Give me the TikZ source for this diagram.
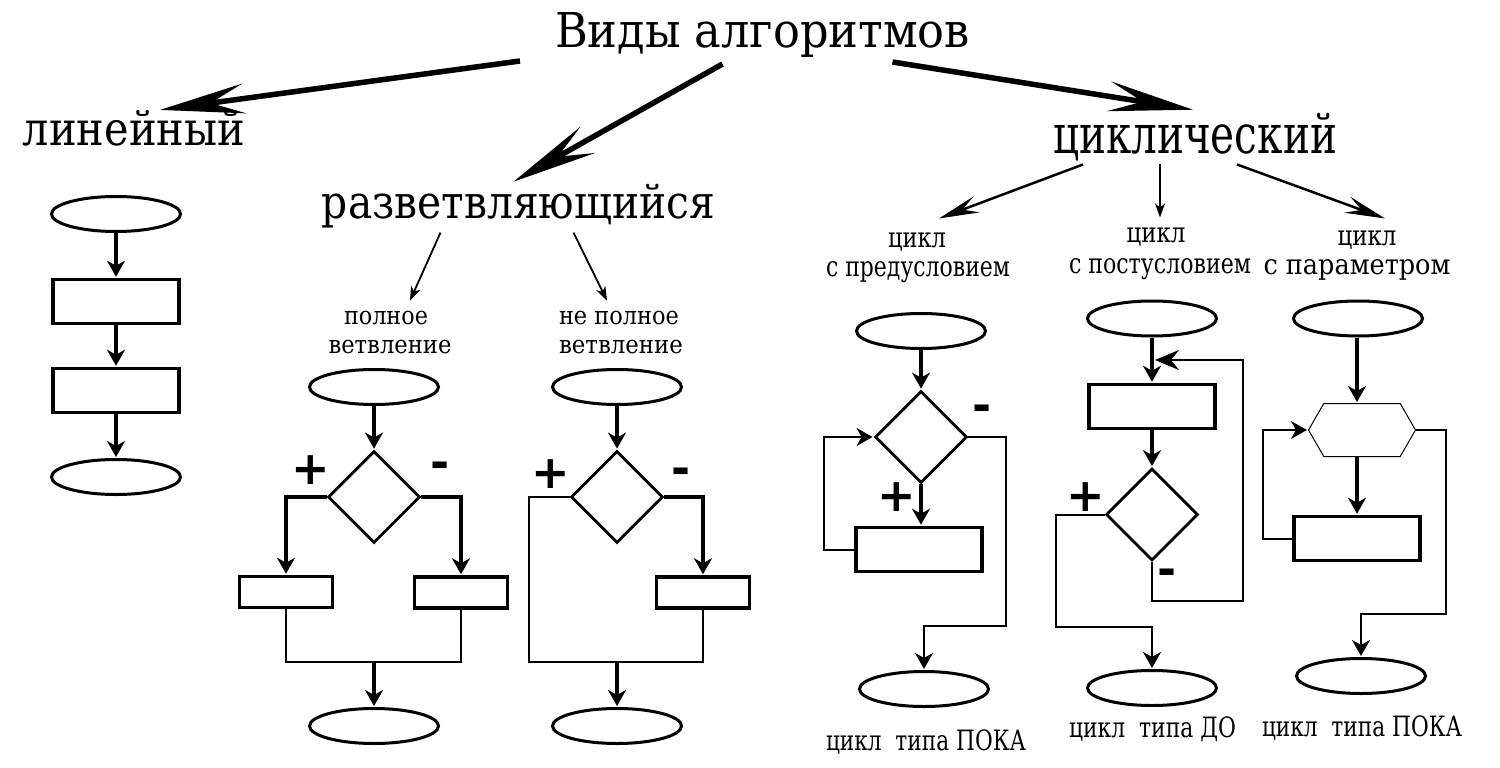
\documentclass[tikz,border=0pt]{standalone}
\usepackage{fontspec}
\setmainfont{DejaVu Serif}
\newfontfamily\signfont{DejaVu Sans}
\usetikzlibrary{arrows.meta,shapes.geometric,shapes.symbols,calc}
\newcommand{\wt}[3]{\resizebox{#1pt}{\height}{\fontsize{#2pt}{#2pt}\selectfont #3}}
\begin{document}
\begin{tikzpicture}[x=1pt,y=-1pt,
  txt/.style={inner sep=0pt, outer sep=0pt, anchor=base},
  term/.style={draw, ellipse, line width=3pt, minimum width=129pt, minimum height=35pt, inner sep=0pt},
  proc/.style={draw, rectangle, line width=3.5pt, minimum width=126pt, minimum height=44pt, inner sep=0pt},
  procs/.style={draw, rectangle, line width=3.5pt, minimum width=93pt, minimum height=31pt, inner sep=0pt},
  dec/.style={draw, diamond, line width=2.8pt, minimum width=92pt, minimum height=92pt, inner sep=0pt},
  hexa/.style={draw, signal, signal to=east and west, signal pointer angle=120, line width=1pt, minimum width=107pt, minimum height=53pt, inner sep=0pt},
  arr/.style={line width=3.3pt, -{Stealth[length=16pt,width=18pt,inset=5pt]}, shorten >=1pt},
  tarr/.style={line width=2pt, -{Stealth[length=16pt,width=18pt,inset=5pt]}, shorten >=1pt},
  larr/.style={line width=2.6pt, -{Stealth[length=24pt,width=20pt,inset=8pt]}, shorten >=3pt},
  ln/.style={line width=2.5pt},
  big/.style={line width=5.5pt, -{Stealth[length=85pt,width=30pt,inset=34pt]}},
  mid/.style={line width=2.5pt, -{Stealth[length=40pt,width=17pt,inset=15pt]}},
  small/.style={line width=1.8pt, -{Stealth[length=14pt,width=10pt,inset=4pt]}},
  sign/.style={inner sep=0pt, font=\signfont\bfseries\fontsize{46pt}{46pt}\selectfont}
]
\useasboundingbox (0,0) rectangle (1500,768);
\fill[white] (0,0) rectangle (1500,768);

% ---------- titles ----------
\node[txt] (T) at (762.5,48) {\wt{415}{48}{Виды алгоритмов}};
\node[txt] (Lin) at (134,145) {\wt{222}{47}{линейный}};
\node[txt] (Raz) at (518.5,218) {\wt{393}{46}{разветвляющийся}};
\node[txt] (Cyc) at (1195,153) {\wt{284}{54}{циклический}};

\draw[big] ($(T.south west)+(-35,3)$) -- ($(Lin.north)+(26,0)$);
\draw[big] ($(T.south)+(-40,6)$) -- ($(Raz.north)+(-5,-2)$);
\draw[big] ($(T.south)+(130,4)$) -- ($(Cyc.north)+(-2,-3)$);

% ---------- branch labels ----------
\node[txt] (pol1) at (386,324) {\wt{84}{25}{полное}};
\node[txt] (pol2) at (390,353) {\wt{123}{25}{ветвление}};
\node[txt] (npol1) at (619,324) {\wt{120}{25}{не полное}};
\node[txt] (npol2) at (621,353) {\wt{124}{25}{ветвление}};
\draw[small] ($(Raz.south)+(-78,5)$) -- ($(pol1.north)+(24,-10)$);
\draw[small] ($(Raz.south)+(55,5)$) -- ($(npol1.north)+(-12,-10)$);

% ---------- cyclic labels ----------
\node[txt] (c1a) at (917,247) {\wt{58}{28}{цикл}};
\node[txt] (c1b) at (918,276) {\wt{184}{28}{с предусловием}};
\node[txt] (c2a) at (1156,242) {\wt{59}{28}{цикл}};
\node[txt] (c2b) at (1160,273) {\wt{182}{28}{с постусловием}};
\node[txt] (c3a) at (1367,245) {\wt{59}{28}{цикл}};
\node[txt] (c3b) at (1357,274) {\wt{187}{28}{с параметром}};
\draw[mid] ($(Cyc.south)+(-112,4)$) -- ($(c1a.north)+(22,-14)$);
\draw[small] ($(Cyc.south)+(-35,4)$) -- ($(c2a.north)+(4,-10)$);
\draw[mid] ($(Cyc.south)+(42,4)$) -- ($(c3a.north)+(18,-12)$);

% ---------- linear ----------
\node[term] (L0) at (116,214) {};
\node[proc] (L1) at (116,301.5) {};
\node[proc] (L2) at (116,390.5) {};
\node[term] (L3) at (116,477) {};
\draw[arr] (L0) -- (L1);
\draw[arr] (L1) -- (L2);
\draw[arr] (L2) -- (L3);

% ---------- full branching ----------
\node[term] (F0) at (374,387) {};
\node[dec] (F1) at (374,497) {};
\node[procs] (F2) at (286,592) {};
\node[procs] (F3) at (461,592.5) {};
\node[term] (F4) at (374,726) {};
\coordinate (FM) at (374,662);
\draw[arr] (F0) -- (F1);
\draw[arr] (F1.west) -| (F2.north);
\draw[arr] (F1.east) -| (F3.north);
\draw[ln] (F2.south) |- (FM) -| (F3.south);
\draw[arr] (FM) -- (F4);
\node[sign] (sF1) at (311,470) {+};
\node[sign] (sF2) at (440,470) {-};

% ---------- not full branching ----------
\node[term] (N0) at (617,387) {};
\node[dec] (N1) at (617,497) {};
\node[procs] (N2) at (703,592.5) {};
\node[term] (N3) at (617,726) {};
\coordinate (NL) at (529,662);
\coordinate (NM) at (617,662);
\draw[arr] (N0) -- (N1);
\draw[arr] (N1.east) -| (N2.north);
\draw[ln] (N1.west) -| (NL) -| (N2.south);
\draw[arr] (NM) -- (N3);
\node[sign] (sN1) at (551,474) {+};
\node[sign] (sN2) at (681,476) {-};

% ---------- cycle with precondition ----------
\node[term] (P0) at (921,331) {};
\node[dec] (P1) at (921,437) {};
\node[proc] (P2) at (919,549.5) {};
\node[term] (P3) at (924,689) {};
\coordinate (PL) at (824,437);
\coordinate (PR) at (1006,626);
\draw[arr] (P0) -- (P1);
\draw[arr] (P1.south) -- (P1.south |- P2.north);
\draw[tarr] (P2.west) -| (PL) -- (P1.west);
\draw[tarr] (P1.east) -| (PR) -| (P3.north);
\node[sign] (sP1) at (982,413) {-};
\node[sign] (sP2) at (897,497) {+};
\node[txt] (P4) at (926,750) {\wt{200}{28}{цикл~~типа ПОКА}};

% ---------- cycle with postcondition ----------
\node[term] (Q0) at (1152,318.5) {};
\node[proc] (Q1) at (1152,406.5) {};
\node[dec] (Q2) at (1152,514.5) {};
\node[term] (Q3) at (1152,688) {};
\coordinate (QJ) at (1152,360);
\coordinate (QR) at (1243,601);
\coordinate (QL) at (1056,627);
\draw[arr] (Q0) -- (Q1);
\draw[arr] (Q1) -- (Q2);
\draw[larr] (Q2.south) |- (QR) |- (QJ);
\draw[tarr] (Q2.west) -| (QL) -| (Q3.north);
\node[sign] (sQ1) at (1086,497) {+};
\node[sign] (sQ2) at (1167,577) {-};
\node[txt] (Q4) at (1152.5,737) {\wt{167}{28}{цикл~~типа ДО}};

% ---------- cycle with parameter ----------
\node[term] (R0) at (1358,318.5) {};
\node[hexa] (R1) at (1362,430) {};
\node[proc] (R2) at (1357,538.5) {};
\node[term] (R3) at (1361,676) {};
\coordinate (RL) at (1263,430);
\coordinate (RR) at (1446,614);
\draw[arr] (R0.south -| R2.north) -- (R2.north |- R1.north);
\draw[arr] (R1.south -| R2.north) -- (R2.north);
\draw[tarr] (R2.west) -| (RL) -- (R1.west);
\draw[tarr] (R1.east) -| (RR) -| (R3.north);
\node[txt] (R4) at (1362,736) {\wt{200}{28}{цикл~~типа ПОКА}};
\end{tikzpicture}
\end{document}
